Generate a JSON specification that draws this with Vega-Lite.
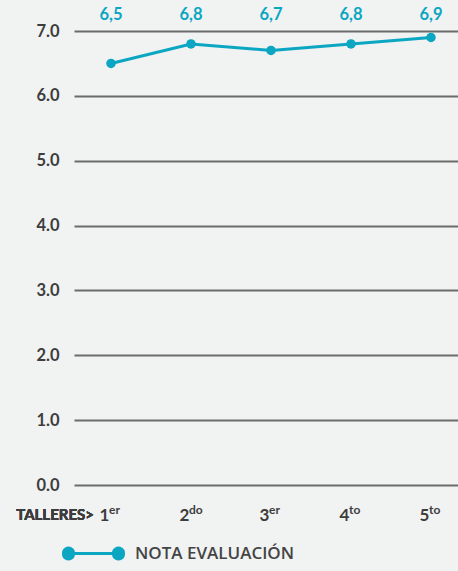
{
  "$schema": "https://vega.github.io/schema/vega-lite/v6.json",
  "width": 384,
  "height": 454,
  "autosize": "none",
  "padding": {"left": 74, "top": 31, "right": 0, "bottom": 86},
  "background": "#f1f2f2",
  "config": {
    "view": {"stroke": null},
    "font": "Lato"
  },
  "data": {
    "values": [
      {"taller": 1, "nota": 6.5, "etiqueta": "6,5", "sufijo": "er", "serie": "NOTA EVALUACIÓN"},
      {"taller": 2, "nota": 6.8, "etiqueta": "6,8", "sufijo": "do", "serie": "NOTA EVALUACIÓN"},
      {"taller": 3, "nota": 6.7, "etiqueta": "6,7", "sufijo": "er", "serie": "NOTA EVALUACIÓN"},
      {"taller": 4, "nota": 6.8, "etiqueta": "6,8", "sufijo": "to", "serie": "NOTA EVALUACIÓN"},
      {"taller": 5, "nota": 6.9, "etiqueta": "6,9", "sufijo": "to", "serie": "NOTA EVALUACIÓN"}
    ]
  },
  "encoding": {
    "x": {
      "field": "taller",
      "type": "quantitative",
      "scale": {"domain": [0.5375, 5.3375], "nice": false, "zero": false},
      "axis": {
        "title": null,
        "values": [1, 2, 3, 4, 5],
        "format": "d",
        "grid": false,
        "domain": false,
        "ticks": false,
        "labelFont": "Lato",
        "labelFontSize": 17,
        "labelFontWeight": "bold",
        "labelColor": "#3d3d3d",
        "labelPadding": 22,
        "labelOffset": -7
      }
    },
    "y": {
      "field": "nota",
      "type": "quantitative",
      "scale": {"domain": [0, 7], "nice": false},
      "axis": {
        "title": null,
        "values": [0, 1, 2, 3, 4, 5, 6, 7],
        "format": ".1f",
        "grid": true,
        "gridColor": "#6b6b6b",
        "gridWidth": 2,
        "gridOpacity": 1,
        "domain": false,
        "ticks": false,
        "labelFont": "Lato",
        "labelFontSize": 16.5,
        "labelFontWeight": "bold",
        "labelColor": "#3d3d3d",
        "labelPadding": 15
      }
    }
  },
  "layer": [
    {
      "mark": {"type": "line", "strokeWidth": 3},
      "encoding": {
        "color": {
          "field": "serie",
          "type": "nominal",
          "scale": {"range": ["#0aa6c2"]},
          "legend": {
            "title": null,
            "orient": "none",
            "legendX": -12,
            "legendY": 491,
            "symbolType": "M-0.833,0L0.833,0M-1,0a0.167,0.167 0 1,0 0.333,0a0.167,0.167 0 1,0 -0.333,0M0.667,0a0.167,0.167 0 1,0 0.333,0a0.167,0.167 0 1,0 -0.333,0",
            "symbolSize": 3600,
            "symbolStrokeWidth": 3,
            "symbolFillColor": "#0aa6c2",
            "symbolStrokeColor": "#0aa6c2",
            "labelFont": "Open Sans",
            "labelFontSize": 17,
            "labelFontWeight": 600,
            "labelColor": "#444444",
            "labelOffset": 10
          }
        }
      }
    },
    {
      "mark": {"type": "point", "filled": true, "size": 90, "opacity": 1, "color": "#0aa6c2"}
    },
    {
      "mark": {"type": "text", "color": "#0aa6c2", "fontSize": 16.5, "fontWeight": "bold", "font": "Lato", "baseline": "middle"},
      "encoding": {
        "y": {"datum": 7.25},
        "text": {"field": "etiqueta"}
      }
    },
    {
      "mark": {"type": "text", "color": "#3d3d3d", "fontSize": 12, "fontWeight": "bold", "font": "Lato", "align": "left", "baseline": "middle", "dx": -2},
      "encoding": {
        "y": {"datum": -0.39},
        "text": {"field": "sufijo"}
      }
    },
    {
      "mark": {"type": "text", "color": "#3d3d3d", "fontSize": 15, "fontWeight": "bold", "font": "Lato", "align": "right", "baseline": "middle", "dx": -17},
      "encoding": {
        "x": {"datum": 1},
        "y": {"datum": -0.47},
        "text": {"value": "TALLERES>"}
      }
    }
  ]
}
